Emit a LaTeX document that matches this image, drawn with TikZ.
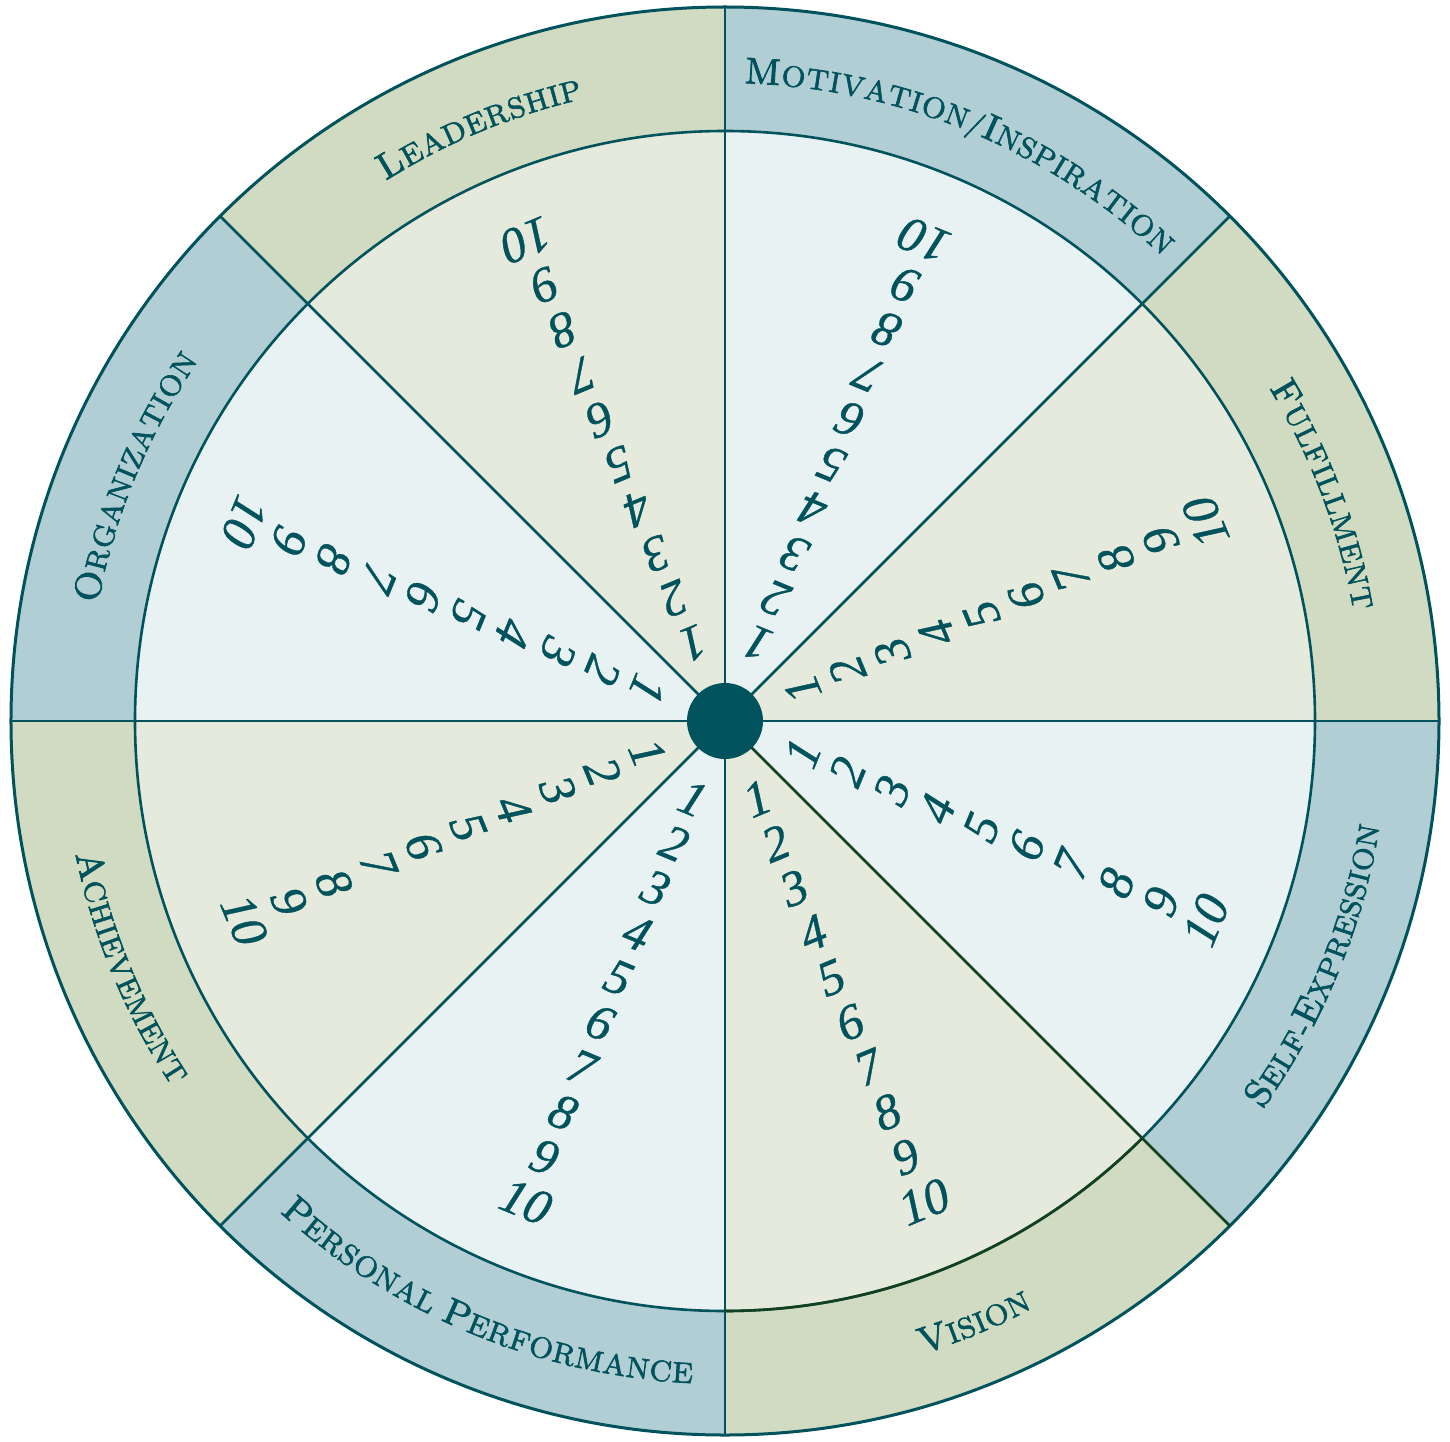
\documentclass[tikz,border=0pt]{standalone}
\usepackage{fontspec}
\usetikzlibrary{decorations.text}
\newfontfamily\lblfam{lmromancaps10-regular}[Extension=.otf, FakeBold=2.2]
\newfontfamily\numfam{Liberation Serif}[FakeBold=0.8]
\definecolor{ink}{HTML}{00525C}
\definecolor{ringB}{HTML}{B0CED4}
\definecolor{ringG}{HTML}{D0DBC2}
\definecolor{fillB}{HTML}{E8F2F3}
\definecolor{fillG}{HTML}{E5EADC}
\definecolor{lineG}{HTML}{13401F}
\newcommand{\lblA}{\lblfam\fontsize{18.5}{20}\selectfont}
\newcommand{\lblB}{\lblfam\fontsize{14.6}{16}\selectfont}
\begin{document}
\begin{tikzpicture}[
  divider/.style={draw=ink, line width=1.3pt},
  numstyle/.style={text=ink, font=\numfam\itshape\fontsize{25}{25}\selectfont, inner sep=0pt},
  ringtext/.style={decorate, decoration={text along path, text align=center, text color=ink, text={#1}}},
]
\useasboundingbox (-362.5pt,-360pt) rectangle (362.5pt,360.5pt);
\coordinate (c) at (0,0);
% sector fills
\foreach \a/\oc/\ic in {112.5/ringG/fillG, 67.5/ringB/fillB, 22.5/ringG/fillG, -22.5/ringB/fillB, -67.5/ringG/fillG, -112.5/ringB/fillB, -157.5/ringG/fillG, 157.5/ringB/fillB}{
  \pgfmathsetmacro{\aa}{\a-22.5}
  \pgfmathsetmacro{\ab}{\a+22.5}
  \fill[\oc] (c) -- (\aa:357.5pt) arc[start angle=\aa, end angle=\ab, radius=357.5pt] -- cycle;
  \fill[\ic] (c) -- (\aa:295pt) arc[start angle=\aa, end angle=\ab, radius=295pt] -- cycle;
}
% circles
\draw[ink, line width=1.3pt] (c) circle[radius=295pt];
\draw[ink, line width=1.5pt] (c) circle[radius=357pt];
% dividers
\foreach \a [count=\i] in {0,45,90,135,180,225,270}{
  \coordinate (rim\i) at (\a:357pt);
  \draw[divider] (c) -- (rim\i);
}
\coordinate (rim8) at (-45:357pt);
\draw[lineG, line width=1.3pt] (c) -- (rim8);
\draw[lineG, line width=1.3pt] (-90:295pt) arc[start angle=-90, end angle=-45, radius=295pt];
% hub
\node[circle, fill=ink, minimum size=38pt, inner sep=0pt] (hub) at (c) {};
% labels (top: clockwise, bottom: counterclockwise)
\path[ringtext={|\lblA|L|\lblB|EADERSHIP}]
  (142.5:319pt) arc[start angle=142.5, end angle=82.5, radius=319pt];
\path[ringtext={|\lblA|M|\lblB|OTIVATION/|\lblA|I|\lblB|NSPIRATION}]
  (97.5:319pt) arc[start angle=97.5, end angle=37.5, radius=319pt];
\path[ringtext={|\lblA|F|\lblB|ULFILLMENT}]
  (50.7:319pt) arc[start angle=50.7, end angle=-9.3, radius=319pt];
\path[ringtext={|\lblA|O|\lblB|RGANIZATION}]
  (187.5:319pt) arc[start angle=187.5, end angle=127.5, radius=319pt];
\path[ringtext={|\lblA|S|\lblB|ELF-|\lblA|E|\lblB|XPRESSION}]
  (-52.5:331.5pt) arc[start angle=-52.5, end angle=7.5, radius=331.5pt];
\path[ringtext={|\lblA|V|\lblB|ISION}]
  (-97.5:331.5pt) arc[start angle=-97.5, end angle=-37.5, radius=331.5pt];
\path[ringtext={|\lblA|P|\lblB|ERSONAL |\lblA|P|\lblB|ERFORMANCE}]
  (-142.5:331.5pt) arc[start angle=-142.5, end angle=-82.5, radius=331.5pt];
\path[ringtext={|\lblA|A|\lblB|CHIEVEMENT}]
  (172.5:331.5pt) arc[start angle=172.5, end angle=232.5, radius=331.5pt];
% numbers
\foreach \a [count=\s] in {112.5,67.5,22.5,-22.5,-67.5,-112.5,-157.5,157.5}{
  \pgfmathsetmacro{\rot}{\a+90}
  \foreach \k in {1,...,10}{
    \pgfmathsetmacro{\rr}{42+24.25*(\k-1)}
    \node[numstyle, rotate=\rot] (num\s-\k) at (\a:\rr pt) {\k};
  }
}
\end{tikzpicture}
\end{document}
